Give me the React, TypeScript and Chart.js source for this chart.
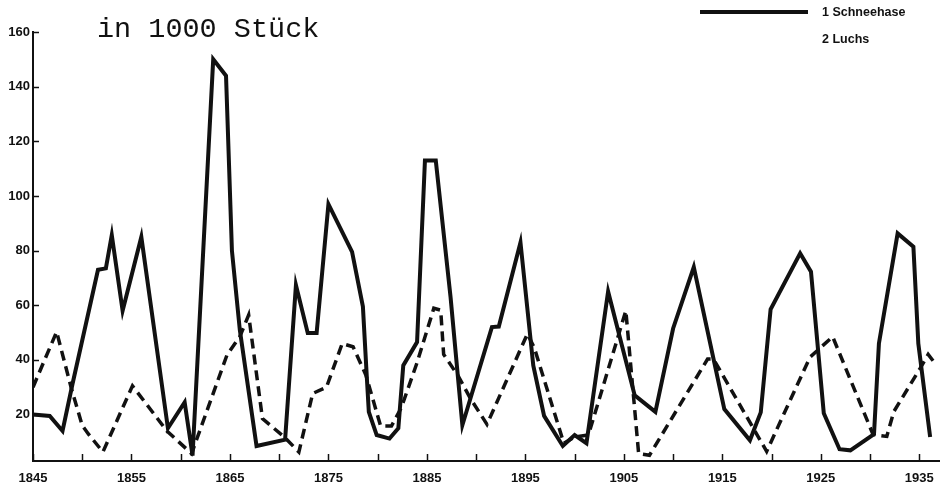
import { useEffect, useRef } from 'react';
import { Chart, registerables } from 'chart.js';

Chart.register(...registerables);

// Schneehase (snowshoe hare) – pelts, in 1000
const hareYears = [
  1845.0, 1846.7, 1848.0, 1849.0, 1851.6, 1852.4, 1853.0, 1854.1, 1856.0, 1858.7,
  1860.4, 1861.2, 1863.3, 1864.6, 1865.2, 1866.0, 1867.7, 1870.6, 1871.7, 1872.9,
  1873.8, 1875.0, 1877.4, 1878.5, 1878.9, 1879.1, 1879.9, 1881.2, 1882.1, 1882.6,
  1884.0, 1884.8, 1885.9, 1887.4, 1888.6, 1891.6, 1892.3, 1894.5, 1895.8, 1896.9,
  1898.8, 1900.0, 1901.2, 1903.4, 1906.1, 1908.2, 1910.0, 1912.1, 1915.2, 1917.8,
  1918.9, 1919.9, 1922.9, 1924.0, 1925.3, 1926.9, 1928.0, 1930.4, 1930.9, 1932.8,
  1934.4, 1934.9, 1936.1,
];
const hareValues = [
  20, 19.5, 14, 31, 73, 73.5, 85.7, 58, 85, 15,
  24.5, 5, 150, 144, 80, 51, 8.5, 10.8, 67.4, 49.8,
  49.8, 97, 79.5, 59.5, 33.5, 21, 12.5, 11.2, 15, 38,
  46.5, 113, 113, 63, 16.1, 52, 52.2, 83, 38, 19.5,
  8.5, 12.5, 9.5, 65, 27, 21, 51.5, 74, 22, 10.6,
  20.8, 58.5, 79, 72.3, 20.5, 7.3, 6.9, 12.8, 46, 86.3,
  81.4, 46, 11.8,
];

// Luchs (lynx) – pelts, in 1000
const lynxYears = [
  1845.0, 1847.4, 1848.9, 1850.0, 1850.6, 1852.1, 1855.1, 1858.6, 1861.1, 1864.7,
  1866.0, 1866.9, 1868.3, 1870.6, 1872.0, 1873.4, 1874.8, 1876.4, 1877.5, 1878.8,
  1880.3, 1881.4, 1882.4, 1884.0, 1885.7, 1886.4, 1886.7, 1888.2, 1889.4, 1891.1,
  1895.2, 1895.9, 1898.9, 1900.0, 1901.4, 1905.2, 1906.5, 1907.6, 1913.5, 1914.1,
  1919.5, 1923.9, 1926.2, 1930.3, 1931.7, 1932.4, 1935.1, 1935.9, 1936.6,
];
const lynxValues = [
  30, 50.3, 29.5, 16, 13, 6.3, 30.5, 14, 5.7, 41.8,
  48.5, 56.4, 18.5, 11.5, 6.3, 27.7, 30, 46, 44.8, 34.5,
  15.8, 15.8, 22.5, 39, 58.9, 58.2, 42, 34, 26, 16.4,
  49.5, 44.5, 9.5, 11.8, 12.5, 58, 5.7, 5.1, 40.3, 40.3,
  6.5, 41, 48.5, 12.7, 12, 21, 37, 42, 38.7,
];

const yTickValues = [20, 40, 60, 80, 100, 120, 140, 160];
const xTickYears = [
  1845, 1850, 1855, 1860, 1865, 1870, 1875, 1880, 1885, 1890,
  1895, 1900, 1905, 1910, 1915, 1920, 1925, 1930, 1935,
];
const xLabelYears = [1845, 1855, 1865, 1875, 1885, 1895, 1905, 1915, 1925, 1935];

const titleText = 'in 1000 Stück';
const seriesLabels = ['1 Schneehase', '2 Luchs'];

const W = 947;
const H = 485;
const INK = '#111111';

const decorPlugin = {
  id: 'decor',
  afterDraw(chart: any) {
    const { ctx, chartArea, scales } = chart;
    const xs = scales.x;
    const ys = scales.y;
    ctx.save();
    ctx.strokeStyle = INK;
    ctx.lineWidth = 1.5;
    // inward y ticks
    yTickValues.forEach((v) => {
      const py = Math.round(ys.getPixelForValue(v)) + 0.5;
      ctx.beginPath();
      ctx.moveTo(chartArea.left, py);
      ctx.lineTo(chartArea.left + 6, py);
      ctx.stroke();
    });
    // inward x ticks
    xTickYears.forEach((v) => {
      const px = Math.round(xs.getPixelForValue(v)) + 0.5;
      ctx.beginPath();
      ctx.moveTo(px, chartArea.bottom);
      ctx.lineTo(px, chartArea.bottom - 7);
      ctx.stroke();
    });
    // title
    ctx.fillStyle = INK;
    ctx.font = '28.5px "Liberation Mono", "DejaVu Sans Mono", monospace';
    ctx.textAlign = 'left';
    ctx.textBaseline = 'alphabetic';
    ctx.fillText(titleText, 97, 37);
    // legend
    ctx.lineWidth = 4;
    ctx.beginPath();
    ctx.moveTo(700, 12);
    ctx.lineTo(808, 12);
    ctx.stroke();
    ctx.font = 'bold 12.5px "Liberation Sans", Arial, sans-serif';
    ctx.textBaseline = 'middle';
    ctx.fillText(seriesLabels[0], 822, 13);
    ctx.fillText(seriesLabels[1], 822, 40);
    ctx.restore();
  },
};

export default function App() {
  const ref = useRef<HTMLCanvasElement>(null);
  useEffect(() => {
    const canvas = ref.current;
    if (!canvas) return;
    const tickFont = { family: '"Liberation Sans", Arial, sans-serif', size: 13, weight: 'bold' as const };
    const chart = new Chart(canvas, {
      type: 'line',
      data: {
        datasets: [
          {
            label: seriesLabels[0],
            data: hareYears.map((x, i) => ({ x, y: hareValues[i] })),
            borderColor: INK,
            borderWidth: 4,
            pointRadius: 0,
            tension: 0,
            fill: false,
            borderJoinStyle: 'miter',
          },
          {
            label: seriesLabels[1],
            data: lynxYears.map((x, i) => ({ x, y: lynxValues[i] })),
            borderColor: INK,
            borderWidth: 3.5,
            borderDash: [10, 6],
            pointRadius: 0,
            tension: 0,
            fill: false,
            borderJoinStyle: 'miter',
          },
        ],
      },
      options: {
        responsive: false,
        animation: false,
        devicePixelRatio: 1,
        layout: { padding: { top: 32, right: 8, left: 0, bottom: 0 } },
        plugins: { legend: { display: false }, tooltip: { enabled: false } },
        scales: {
          x: {
            type: 'linear',
            min: 1845,
            max: 1937,
            grid: { display: false, drawTicks: false },
            border: { display: true, color: INK, width: 2 },
            afterBuildTicks: (s: any) => {
              s.ticks = xTickYears.map((v) => ({ value: v }));
            },
            ticks: {
              autoSkip: false,
              maxRotation: 0,
              padding: 10,
              color: INK,
              font: tickFont,
              callback: (v: any) => (xLabelYears.includes(Number(v)) ? String(v) : ''),
            },
            afterFit: (s: any) => {
              s.height = 24;
            },
          },
          y: {
            type: 'linear',
            min: 3,
            max: 160,
            grid: { display: false, drawTicks: false },
            border: { display: true, color: INK, width: 2 },
            afterBuildTicks: (s: any) => {
              s.ticks = yTickValues.map((v) => ({ value: v }));
            },
            ticks: {
              padding: 3,
              color: INK,
              font: tickFont,
              callback: (v: any) => String(v),
            },
            afterFit: (s: any) => {
              s.width = 33;
            },
          },
        },
      },
      plugins: [decorPlugin],
    } as any);
    return () => chart.destroy();
  }, []);
  return (
    <div style={{ position: 'fixed', left: 0, top: 0, width: W, height: H, background: '#fff' }}>
      <canvas ref={ref} width={W} height={H} style={{ display: 'block', width: W, height: H }} />
    </div>
  );
}
